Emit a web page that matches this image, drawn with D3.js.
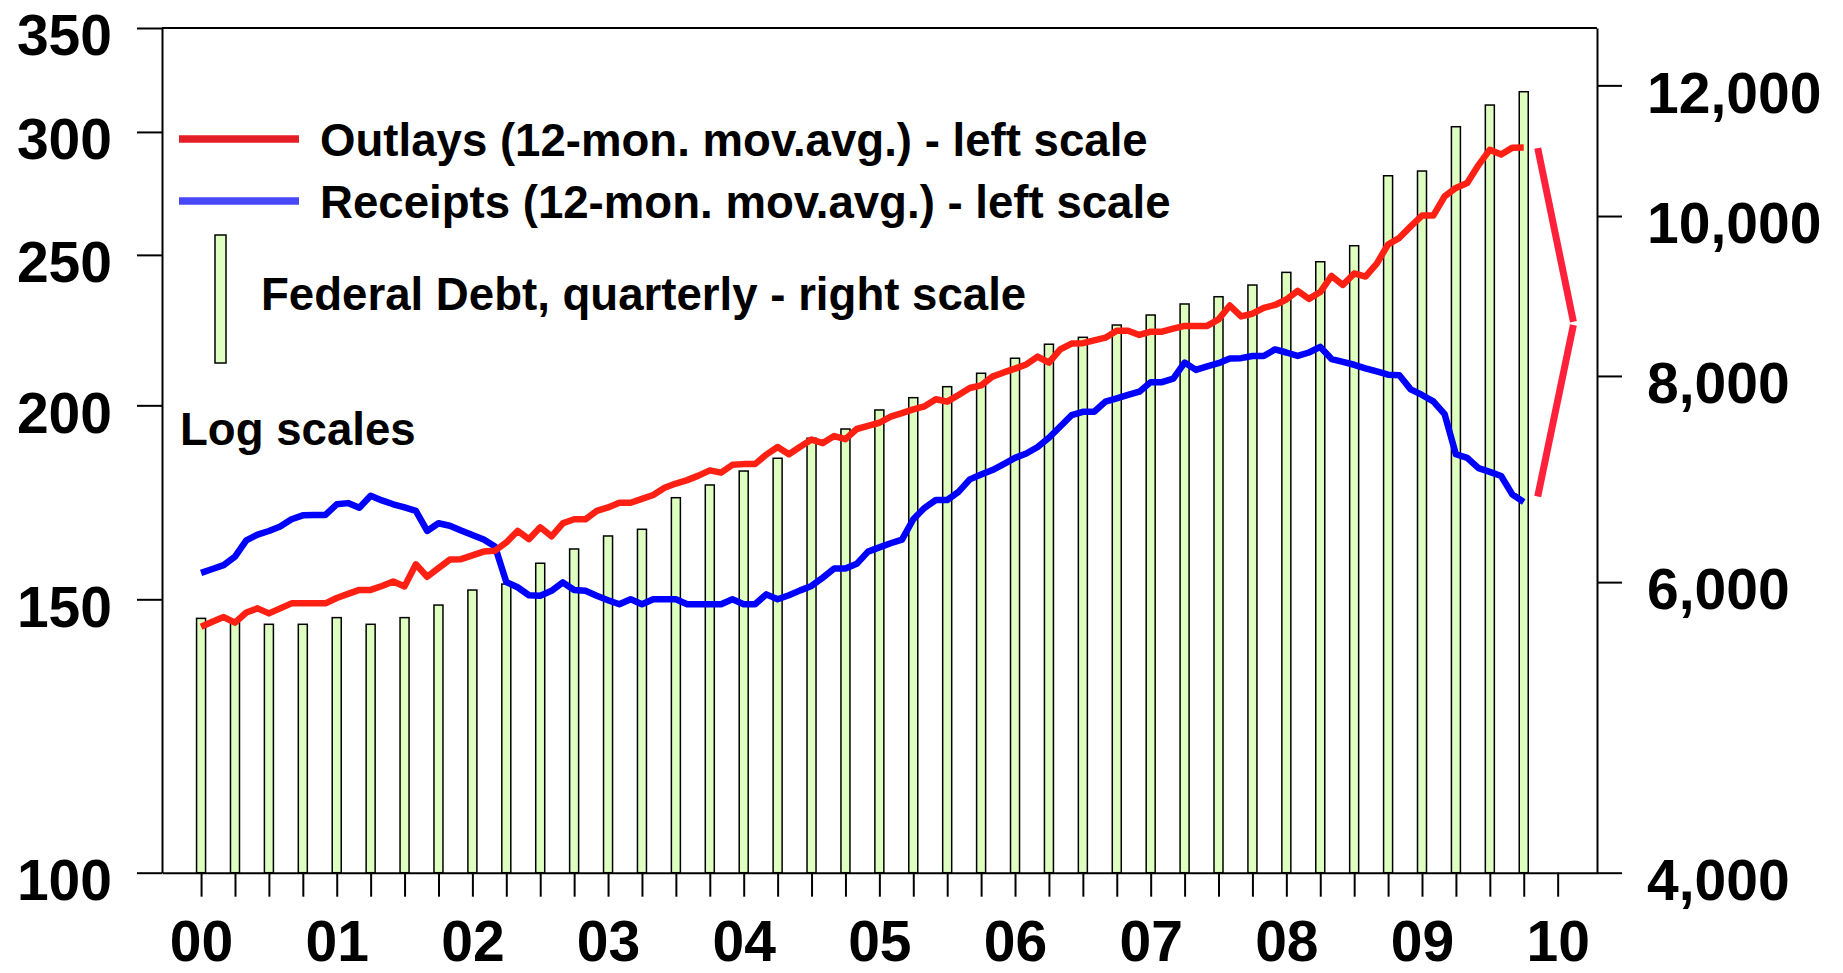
<!DOCTYPE html>
<html>
<head>
<meta charset="utf-8">
<script src="https://cdn.jsdelivr.net/npm/d3@7"></script>
<style>
  body { margin: 0; background: #fff; }
  text { font-family: "Liberation Sans", Arial, sans-serif; font-weight: bold; fill: #000; }
</style>
</head>
<body>
<div id="chart"></div>
<script>
// ---- data ----
const startYear = 2000;
const yearLabels = ["00", "01", "02", "03", "04", "05", "06", "07", "08", "09", "10"];
const leftTicks = [100, 150, 200, 250, 300, 350];
const rightTicks = [4000, 6000, 8000, 10000, 12000];

// monthly, Jan 2000 .. Oct 2009, billions (12-mon. mov. avg.)
const outlays = [
  144.0, 145.1, 146.1, 144.9, 147.1, 148.0, 146.9, 148.0, 149.1, 149.1, 149.1, 149.1,
  150.3, 151.2, 152.1, 152.1, 153.0, 154.0, 152.9, 158.0, 155.1, 157.1, 159.1, 159.2,
  160.1, 161.0, 161.2, 163.2, 166.0, 164.0, 166.9, 164.7, 167.9, 168.9, 168.9, 171.0,
  171.9, 173.1, 173.1, 174.1, 175.1, 177.0, 178.1, 179.0, 180.2, 181.6, 181.0, 183.1,
  183.3, 183.3, 185.9, 188.0, 186.0, 188.1, 190.1, 189.1, 191.1, 190.2, 193.1, 194.0,
  194.9, 196.7, 197.7, 198.8, 199.7, 201.8, 201.1, 203.1, 205.2, 206.0, 208.7, 210.0,
  211.2, 212.5, 215.0, 213.1, 217.3, 219.2, 219.3, 220.2, 221.1, 223.4, 223.4, 222.0,
  223.1, 223.1, 224.1, 225.0, 225.0, 225.0, 227.2, 231.9, 228.2, 229.1, 231.1, 232.1,
  234.0, 237.0, 234.2, 236.6, 242.3, 239.1, 243.2, 242.1, 246.8, 253.9, 256.4, 260.8,
  265.0, 265.0, 272.7, 276.1, 278.1, 285.6, 292.2, 290.1, 293.1, 293.2
];
const receipts = [
  156.0, 156.9, 157.8, 159.8, 163.7, 165.1, 166.0, 167.1, 168.9, 169.9, 170.0, 170.0,
  172.7, 173.0, 171.8, 174.9, 173.7, 172.7, 171.9, 171.0, 166.0, 167.9, 167.3, 166.1,
  165.0, 163.9, 162.2, 153.9, 152.7, 150.9, 150.8, 151.9, 153.8, 152.1, 151.9, 150.8,
  149.8, 148.9, 150.0, 148.9, 150.0, 150.0, 150.0, 148.9, 148.9, 148.9, 148.9, 150.0,
  148.9, 148.9, 151.1, 150.0, 150.9, 152.0, 153.0, 154.9, 157.0, 157.0, 158.1, 161.0,
  162.0, 163.0, 163.9, 168.9, 171.8, 173.8, 173.8, 175.9, 179.2, 180.5, 181.7, 183.3,
  185.0, 186.2, 188.0, 190.6, 193.8, 197.1, 198.1, 198.1, 201.1, 202.1, 203.1, 204.1,
  207.0, 207.0, 208.1, 213.1, 210.8, 211.9, 212.9, 214.4, 214.5, 215.2, 215.2, 217.3,
  216.3, 215.2, 216.3, 218.1, 214.2, 213.3, 212.4, 211.3, 210.3, 209.3, 209.1, 204.8,
  203.1, 201.2, 197.4, 186.0, 185.0, 182.2, 181.2, 180.1, 175.2, 173.3
];

// quarterly federal debt, 2000Q1 .. 2009Q4, billions
const debt = [
  5704, 5686, 5657, 5657, 5710, 5657, 5710, 5811,
  5934, 5984, 6160, 6284, 6399, 6459, 6750, 6871,
  7006, 7132, 7334, 7429, 7629, 7761, 7881, 8030,
  8200, 8362, 8443, 8589, 8710, 8845, 8935, 9082,
  9244, 9382, 9594, 10578, 10648, 11327, 11675, 11894
];

// the ">" mark showing the gap between outlays and receipts: [time, left-scale value]
const gapBracket = [
  [[2009.853, 292.9], [2010.116, 226.4]],
  [[2010.116, 225.3], [2009.853, 174.7]]
];

// ---- layout ----
const W = 1843, H = 973;
const plot = { left: 162, right: 1597, top: 28, bottom: 872.7 };

const svg = d3.select("#chart").append("svg")
    .attr("width", W)
    .attr("height", H);

const x = d3.scaleLinear().domain([1999.712, 2010.29]).range([plot.left, plot.right]);
const yL = d3.scaleLog().domain([100, 350]).range([plot.bottom, plot.top]);
const yR = d3.scaleLog().domain([4000, 13000]).range([plot.bottom, plot.top]);

const monthT = i => startYear + i / 12;
const quarterT = i => startYear + i / 4;

// Bars (debt, right scale)
svg.append("g").selectAll("rect")
    .data(debt)
    .enter()
    .append("rect")
    .attr("x", (d, i) => x(quarterT(i)) - 4.5)
    .attr("width", 9)
    .attr("y", d => yR(d))
    .attr("height", d => plot.bottom - yR(d))
    .attr("fill", "#dfffc0")
    .attr("stroke", "#000")
    .attr("stroke-width", 1.5);

// Lines
const line = d3.line()
    .x((d, i) => x(monthT(i)))
    .y(d => yL(d));

svg.append("path")
    .datum(receipts)
    .attr("d", line)
    .attr("fill", "none")
    .attr("stroke", "#0000ff")
    .attr("stroke-width", 6.5)
    .attr("stroke-linejoin", "round");

svg.append("path")
    .datum(outlays)
    .attr("d", line)
    .attr("fill", "none")
    .attr("stroke", "#ff2014")
    .attr("stroke-width", 6.5)
    .attr("stroke-linejoin", "round");

// Gap bracket
svg.append("g").selectAll("line")
    .data(gapBracket)
    .enter()
    .append("line")
    .attr("x1", d => x(d[0][0]))
    .attr("y1", d => yL(d[0][1]))
    .attr("x2", d => x(d[1][0]))
    .attr("y2", d => yL(d[1][1]))
    .attr("stroke", "#ff203c")
    .attr("stroke-width", 7);

// Axes
const fontPx = 57;

const leftAxis = svg.append("g")
    .attr("transform", `translate(${plot.left},0)`)
    .call(d3.axisLeft(yL)
        .tickValues(leftTicks)
        .tickFormat(d3.format("d"))
        .tickSize(25)
        .tickPadding(25)
        .tickSizeOuter(0));

const rightAxis = svg.append("g")
    .attr("transform", `translate(${plot.right},0)`)
    .call(d3.axisRight(yR)
        .tickValues(rightTicks)
        .tickFormat(d3.format(","))
        .tickSize(25)
        .tickPadding(25)
        .tickSizeOuter(0));

const xTicks = d3.range(0, 41).map(quarterT);
const bottomAxis = svg.append("g")
    .attr("transform", `translate(0,${plot.bottom})`)
    .call(d3.axisBottom(x)
        .tickValues(xTicks)
        .tickFormat(d => Number.isInteger(d) ? yearLabels[d - startYear] : "")
        .tickSize(24)
        .tickPadding(24)
        .tickSizeOuter(0));

// top frame line
svg.append("line")
    .attr("x1", plot.left).attr("x2", plot.right)
    .attr("y1", plot.top).attr("y2", plot.top)
    .attr("stroke", "#000")
    .attr("stroke-width", 2);

[leftAxis, rightAxis, bottomAxis].forEach(g => {
  g.select(".domain").attr("stroke", "#000").attr("stroke-width", 2);
  g.selectAll(".tick line").attr("stroke", "#000").attr("stroke-width", 2);
  g.selectAll("text")
      .style("font-family", '"Liberation Sans", Arial, sans-serif')
      .style("font-weight", "bold")
      .style("font-size", fontPx + "px")
      .attr("fill", "#000");
});
leftAxis.selectAll("text").attr("dy", "0.47em");
rightAxis.selectAll("text").attr("dy", "0.47em");

// Legend
const legendFont = "45.6px";
svg.append("line")
    .attr("x1", 179).attr("x2", 299).attr("y1", 139).attr("y2", 139)
    .attr("stroke", "#e41e26").attr("stroke-width", 7.5);
svg.append("text")
    .attr("x", 320).attr("y", 156)
    .style("font-size", legendFont)
    .text("Outlays (12-mon. mov.avg.) - left scale");

svg.append("line")
    .attr("x1", 179).attr("x2", 299).attr("y1", 201).attr("y2", 201)
    .attr("stroke", "#4848f8").attr("stroke-width", 7.5);
svg.append("text")
    .attr("x", 320).attr("y", 218)
    .style("font-size", legendFont)
    .text("Receipts (12-mon. mov.avg.) - left scale");

svg.append("rect")
    .attr("x", 215).attr("y", 235).attr("width", 11).attr("height", 128)
    .attr("fill", "#dfffc0").attr("stroke", "#000").attr("stroke-width", 1.5);
svg.append("text")
    .attr("x", 261).attr("y", 310)
    .style("font-size", legendFont)
    .text("Federal Debt, quarterly - right scale");

svg.append("text")
    .attr("x", 180).attr("y", 445)
    .style("font-size", legendFont)
    .text("Log scales");
</script>
</body>
</html>
